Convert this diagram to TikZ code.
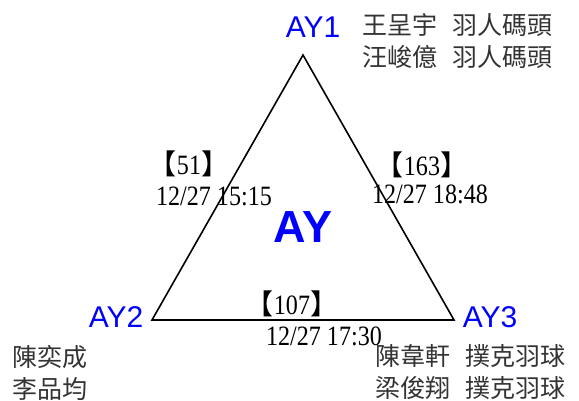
\documentclass[tikz,border=0pt]{standalone}
\usepackage{fontspec}
\setmainfont{Liberation Serif}
\setsansfont{Liberation Sans}
\newfontfamily\cjk{Noto Sans CJK TC}
\newfontfamily\narrowserif[FakeStretch=0.86]{Liberation Serif}
\usetikzlibrary{positioning}
\definecolor{ayblue}{RGB}{0,0,255}

\begin{document}
\begin{tikzpicture}[x=1pt,y=-1pt,line width=1.6pt,
    site/.style={text=ayblue,font=\sffamily\fontsize{30}{30}\selectfont,inner sep=0pt},
    team/.style={anchor=west,align=left,inner sep=0pt,text=black!80,font=\cjk\fontsize{25}{32}\selectfont},
    score/.style={inner sep=0pt,font=\narrowserif\fontsize{28}{28}\selectfont},
    stamp/.style={inner sep=0pt,font=\narrowserif\fontsize{28}{28}\selectfont}]
      \useasboundingbox (0,0) rectangle (579,401);
      \coordinate (v1) at (303,55);
      \coordinate (v2) at (152,320);
      \coordinate (v3) at (454,320);
      \draw (v1) -- (v2) -- (v3) -- cycle;
      \node[site] (ay1) at (313,27) {AY1};
      \node[site] (ay2) at (116,317) {AY2};
      \node[site] (ay3) at (490,317) {AY3};
      \node[text=ayblue,inner sep=0pt,font=\sffamily\bfseries\fontsize{45}{45}\selectfont] (ay) at (303,227) {AY};
      \node[team] (t1) at (362,41) {王呈宇\hspace{0.6em}羽人碼頭\\汪峻億\hspace{0.6em}羽人碼頭};
      \node[team] (t2) at (12,373) {陳奕成\\李品均};
      \node[team] (t3) at (375,372) {陳韋軒\hspace{0.6em}撲克羽球\\梁俊翔\hspace{0.6em}撲克羽球};
      \node[score] (s12) at (189,164) {{\cjk【}51{\cjk】}};
      \node[stamp] (d12) at (214,196) {12/27 15:15};
      \node[score] (s13) at (422,165) {{\cjk【}163{\cjk】}};
      \node[stamp] (d13) at (430,194) {12/27 18:48};
      \node[score] (s23) at (292,304) {{\cjk【}107{\cjk】}};
      \node[stamp] (d23) at (324,336) {12/27 17:30};
    \end{tikzpicture}
\end{document}
